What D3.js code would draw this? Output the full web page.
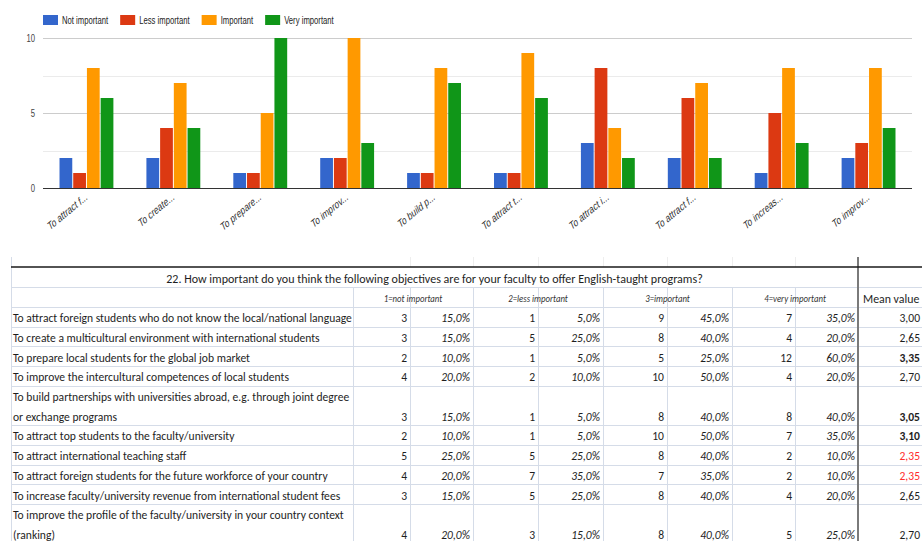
<!DOCTYPE html>
<html>
<head>
<meta charset="utf-8">
<script src="https://cdn.jsdelivr.net/npm/d3@7"></script>
<style>
  body { margin: 0; background: #fff; }
  svg { display: block; }
</style>
</head>
<body>
<svg id="chart" width="922" height="541"></svg>
<script>
// ---- Bar chart data (counts per objective) ----
const seriesNames = ["Not important", "Less important", "Important", "Very important"];
const seriesColors = ["#3366cc", "#dc3912", "#ff9900", "#109618"];
const chartLabels = ["To attract f...", "To create...", "To prepare...", "To improv...", "To build p...",
                     "To attract t...", "To attract i...", "To attract f...", "To increas...", "To improv..."];
const notImportant  = [2, 2, 1, 2, 1, 1, 3, 2, 1, 2];
const lessImportant = [1, 4, 1, 2, 1, 1, 8, 6, 5, 3];
const important     = [8, 7, 5, 10, 8, 9, 4, 7, 8, 8];
const veryImportant = [6, 4, 10, 3, 7, 6, 2, 2, 3, 4];
const yTickValues = [0, 5, 10];
const yGridValues = [0, 2.5, 5, 7.5, 10];

// ---- Survey table data ----
const tableTitle = "22. How important do you think the following objectives are for your faculty to offer English-taught programs?";
const columnHeads = ["1=not important", "2=less important", "3=important", "4=very important"];
const meanHead = "Mean value";
const objectives = [
  ["To attract foreign students who do not know the local/national language"],
  ["To create a multicultural environment with international students"],
  ["To prepare local students for the global job market"],
  ["To improve the intercultural competences of local students"],
  ["To build partnerships with universities abroad, e.g. through joint degree", "or exchange programs"],
  ["To attract top students to the faculty/university"],
  ["To attract international teaching staff"],
  ["To attract foreign students for the future workforce of your country"],
  ["To increase faculty/university revenue from international student fees"],
  ["To improve the profile of the faculty/university in your country context", "(ranking)"]
];
const count1 = [3, 3, 2, 4, 3, 2, 5, 4, 3, 4];
const pct1   = [15, 15, 10, 20, 15, 10, 25, 20, 15, 20];
const count2 = [1, 5, 1, 2, 1, 1, 5, 7, 5, 3];
const pct2   = [5, 25, 5, 10, 5, 5, 25, 35, 25, 15];
const count3 = [9, 8, 5, 10, 8, 10, 8, 7, 8, 8];
const pct3   = [45, 40, 25, 50, 40, 50, 40, 35, 40, 40];
const count4 = [7, 4, 12, 4, 8, 7, 2, 2, 4, 5];
const pct4   = [35, 20, 60, 20, 40, 35, 10, 10, 20, 25];
const meanValues = [3.00, 2.65, 3.35, 2.70, 3.05, 3.10, 2.35, 2.35, 2.65, 2.70];

const svg = d3.select("#chart");
const chartFont = "'Liberation Sans', Arial, sans-serif";
const sheetFont = "Carlito, Calibri, 'Liberation Sans', Arial, sans-serif";

// ================= Bar chart =================
const series = [notImportant, lessImportant, important, veryImportant];
const plot = { left: 43, right: 912, top: 38, bottom: 188 };
const squeeze = 0.7; // chart texts are drawn horizontally condensed

const y = d3.scaleLinear().domain([0, 10]).range([plot.bottom, plot.top]);
const x0 = d3.scaleBand().domain(d3.range(chartLabels.length))
  .range([plot.left, plot.right]).paddingInner(0.38).paddingOuter(0.19);
const x1 = d3.scaleBand().domain(d3.range(series.length))
  .range([0, x0.bandwidth()]).paddingInner(0.07);

const chart = svg.append("g");

// gridlines
chart.append("g").selectAll("line").data(yGridValues).join("line")
  .attr("x1", plot.left).attr("x2", plot.right)
  .attr("y1", d => Math.round(y(d)) + 0.5).attr("y2", d => Math.round(y(d)) + 0.5)
  .attr("stroke", d => yTickValues.includes(d) ? "#cccccc" : "#ebebeb")
  .attr("stroke-width", 1);

// y-axis labels
const yAxis = d3.axisLeft(y).tickValues(yTickValues).tickSize(0).tickPadding(0);
const yAxisG = chart.append("g").attr("transform", `translate(${plot.left - 8},0)`).call(yAxis);
yAxisG.select(".domain").remove();
yAxisG.selectAll("text")
  .attr("x", null).attr("dy", "0.32em")
  .attr("transform", `scale(${squeeze},1)`)
  .style("font-family", chartFont).style("font-size", "11px").attr("fill", "#444");

// bars
chart.append("g").selectAll("g").data(chartLabels.map((_, i) => i)).join("g")
  .attr("transform", i => `translate(${x0(i)},0)`)
  .selectAll("rect").data(i => series.map((s, j) => ({ j, v: s[i] }))).join("rect")
  .attr("x", d => x1(d.j)).attr("width", x1.bandwidth())
  .attr("y", d => y(d.v)).attr("height", d => y(0) - y(d.v))
  .attr("fill", d => seriesColors[d.j]);

// baseline
chart.append("line")
  .attr("x1", plot.left).attr("x2", plot.right)
  .attr("y1", Math.round(y(0)) + 0.5).attr("y2", Math.round(y(0)) + 0.5)
  .attr("stroke", "#333").attr("stroke-width", 1);

// slanted category labels
chart.append("g").selectAll("text").data(chartLabels).join("text")
  .attr("transform", (d, i) => `translate(${x0(i) + x0.bandwidth() / 2 + 1.5},${plot.bottom + 11}) scale(${squeeze},1) rotate(-30)`)
  .attr("text-anchor", "end")
  .style("font-family", chartFont).style("font-size", "11.5px").attr("fill", "#333")
  .text(d => d);

// legend
const legend = chart.append("g");
let lx = plot.left;
seriesNames.forEach((name, j) => {
  legend.append("rect").attr("x", lx).attr("y", 15).attr("width", 15).attr("height", 10)
    .attr("fill", seriesColors[j]);
  const t = legend.append("text")
    .attr("transform", `translate(${lx + 19},24) scale(${squeeze},1)`)
    .style("font-family", chartFont).style("font-size", "11px").attr("fill", "#222")
    .text(name);
  lx += 19 + t.node().getComputedTextLength() * squeeze + 12;
});

// ================= Table =================
const table = svg.append("g");
const colEdges = [11, 353, 410, 473, 538, 603, 667, 732, 795, 858, 922];
const titleTop = 267, headTop = 287, bodyTop = 307, rowH = 19.7;
const lineColor = "#d5dce8";

// condense the sheet font so the longest label fits its column
const probe = svg.append("text").style("font-family", sheetFont).style("font-size", "12.5px");
let maxW = 0;
objectives.forEach(lines => lines.forEach(l => {
  probe.text(l);
  maxW = Math.max(maxW, probe.node().getComputedTextLength());
}));
probe.remove();
const sx = Math.min(1, (colEdges[1] - colEdges[0] - 3) / maxW);

function cell(x, yb, str, o = {}) {
  return table.append("text")
    .attr("transform", `translate(${x},${yb}) scale(${sx},1)`)
    .attr("text-anchor", o.anchor || "start")
    .style("font-family", sheetFont)
    .style("font-size", (o.size || 12.5) + "px")
    .style("font-style", o.italic ? "italic" : null)
    .style("font-weight", o.bold ? "bold" : null)
    .attr("fill", o.fill || "#1e1e1e")
    .text(str);
}

// row geometry
const rowTops = [];
let yy = bodyTop;
objectives.forEach(lines => { rowTops.push(yy); yy += rowH * lines.length; });
const rowBottoms = objectives.map((lines, i) => rowTops[i] + rowH * lines.length);

// faint sheet gridlines above the table
colEdges.slice(2, 9).forEach(cx => {
  table.append("line").attr("x1", cx + 0.5).attr("x2", cx + 0.5).attr("y1", 257).attr("y2", titleTop)
    .attr("stroke", "#eeeeee");
});

// horizontal rules
[headTop, bodyTop, ...rowBottoms].forEach(ry => {
  table.append("line").attr("x1", colEdges[0]).attr("x2", 922)
    .attr("y1", Math.round(ry) + 0.5).attr("y2", Math.round(ry) + 0.5)
    .attr("stroke", lineColor);
});
// vertical rules
colEdges.slice(1, 9).forEach(cx => {
  table.append("line").attr("x1", cx + 0.5).attr("x2", cx + 0.5).attr("y1", headTop).attr("y2", 541)
    .attr("stroke", lineColor);
});
table.append("line").attr("x1", colEdges[0] + 0.5).attr("x2", colEdges[0] + 0.5)
  .attr("y1", 257).attr("y2", 541).attr("stroke", lineColor);
table.append("line").attr("x1", colEdges[9]).attr("x2", colEdges[9])
  .attr("y1", 257).attr("y2", 541).attr("stroke", "#7a7a7a").attr("stroke-width", 2);
table.append("line").attr("x1", colEdges[0]).attr("x2", 922)
  .attr("y1", titleTop).attr("y2", titleTop).attr("stroke", "#1a1a1a").attr("stroke-width", 1.5);

// title and column headers
cell((colEdges[0] + colEdges[9]) / 2, titleTop + 16, tableTitle, { anchor: "middle", size: 13 });
columnHeads.forEach((h, k) => {
  const cx = (colEdges[1 + 2 * k] + colEdges[3 + 2 * k]) / 2;
  cell(cx, headTop + 15, h, { anchor: "middle", size: 9.5, italic: true, fill: "#333" });
});
cell(colEdges[9] + 5, headTop + 15.5, meanHead, { size: 12.8 });

// body
const counts = [count1, count2, count3, count4];
const pcts = [pct1, pct2, pct3, pct4];
const fmtPct = v => d3.format(".1f")(v).replace(".", ",") + "%";
const fmtMean = v => d3.format(".2f")(v).replace(".", ",");

objectives.forEach((lines, i) => {
  lines.forEach((l, li) => {
    cell(colEdges[0] + 2, rowTops[i] + rowH * (li + 1) - 4.5, l);
  });
  const base = rowBottoms[i] - 4.5;
  counts.forEach((c, k) => {
    cell(colEdges[2 + 2 * k] - 3, base, c[i], { anchor: "end" });
    cell(colEdges[3 + 2 * k] - 3, base, fmtPct(pcts[k][i]), { anchor: "end", italic: true });
  });
  const m = meanValues[i];
  cell(920, base, fmtMean(m), {
    anchor: "end",
    bold: m > 3,
    fill: m < 2.5 ? "#ff2b2b" : "#1e1e1e"
  });
});
</script>
</body>
</html>
